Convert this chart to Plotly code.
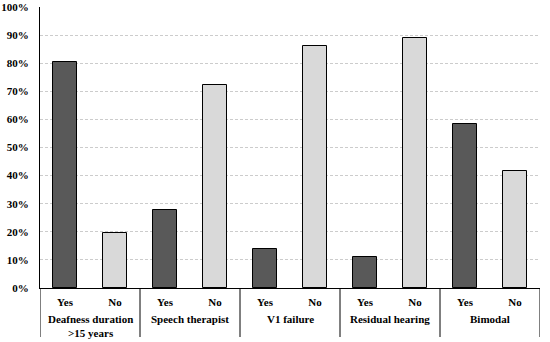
import plotly.graph_objects as go

groups = ["Deafness duration<br>>15 years", "Speech therapist", "V1 failure", "Residual hearing", "Bimodal"]
answers = ["Yes", "No"]
yes_values = [80.4, 27.8, 13.9, 11.1, 58.3]
no_values = [19.6, 72.2, 86.1, 88.9, 41.7]
colors = {"Yes": "#595959", "No": "#d9d9d9"}

xpos, ylab, yv, cols = [], [], [], []
for gi, (y1, y2) in enumerate(zip(yes_values, no_values)):
    for ai, (a, v) in enumerate(zip(answers, [y1, y2])):
        xpos.append(gi * len(answers) + ai)
        ylab.append(a)
        yv.append(v / 100)
        cols.append(colors[a])

fig = go.Figure(go.Bar(
    x=xpos, y=yv,
    marker=dict(color=cols, line=dict(color="black", width=1)),
    width=0.48,
))

plot_h = 342 - 7 - 54
n = len(answers)
for gi, g in enumerate(groups):
    fig.add_annotation(
        x=gi * n + (n - 1) / 2, y=0, xref="x", yref="paper",
        text=g, showarrow=False, yanchor="top", yshift=-23,
        font=dict(family="Liberation Serif", size=11, color="black", weight="bold"),
    )
for b in range(len(groups) + 1):
    fig.add_shape(
        type="line", xref="x", yref="paper",
        x0=b * n - 0.5, x1=b * n - 0.5, y0=0, y1=-49 / plot_h,
        line=dict(color="black", width=1),
    )

fig.update_layout(
    width=550, height=342,
    margin=dict(l=40, r=10, t=7, b=54, autoexpand=False),
    plot_bgcolor="white", paper_bgcolor="white",
    font=dict(family="Liberation Serif", size=11, color="black", weight="bold"),
    showlegend=False,
    bargap=0,
)
fig.update_yaxes(
    range=[0, 1], dtick=0.1, tickformat=".0%",
    showline=True, linecolor="black", linewidth=1,
    showgrid=True, gridcolor="#cccccc", griddash="3px,2px", gridwidth=1,
    zeroline=False, ticks="outside", ticklen=8, tickcolor="rgba(0,0,0,0)",
    automargin=False,
)
fig.update_xaxes(
    range=[-0.5, len(xpos) - 0.5],
    tickvals=xpos, ticktext=ylab,
    showline=True, linecolor="black", linewidth=1,
    ticks="outside", ticklen=4, tickcolor="rgba(0,0,0,0)",
    showgrid=False, zeroline=False, automargin=False,
)
fig.write_html("out.html", config={"displayModeBar": False},
               post_script="document.body.style.margin='0';document.body.style.padding='0';")
